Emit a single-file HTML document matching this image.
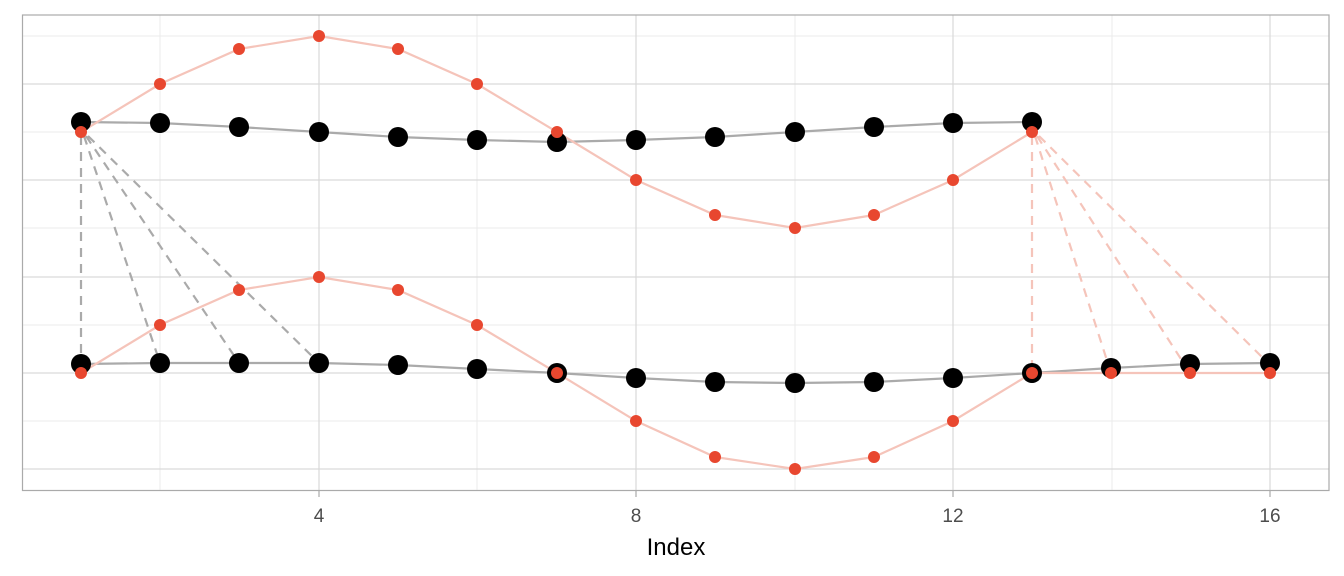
<!DOCTYPE html>
<html><head><meta charset="utf-8"><style>body{margin:0;background:#fff}svg{display:block}</style></head><body>
<svg width="1344" height="576" xmlns="http://www.w3.org/2000/svg" font-family="Liberation Sans, sans-serif">
<g stroke="#ebebeb" stroke-width="1">
<line x1="22" x2="1329" y1="36" y2="36"/><line x1="22" x2="1329" y1="132" y2="132"/><line x1="22" x2="1329" y1="228" y2="228"/><line x1="22" x2="1329" y1="325" y2="325"/><line x1="22" x2="1329" y1="421" y2="421"/>
<line x1="160" x2="160" y1="15" y2="490"/><line x1="477" x2="477" y1="15" y2="490"/><line x1="795" x2="795" y1="15" y2="490"/><line x1="1112" x2="1112" y1="15" y2="490"/>
</g>
<g stroke="#d9d9d9" stroke-width="1.2">
<line x1="22" x2="1329" y1="84" y2="84"/><line x1="22" x2="1329" y1="180" y2="180"/><line x1="22" x2="1329" y1="277" y2="277"/><line x1="22" x2="1329" y1="373" y2="373"/><line x1="22" x2="1329" y1="469" y2="469"/>
<line x1="319" x2="319" y1="15" y2="490"/><line x1="636" x2="636" y1="15" y2="490"/><line x1="953" x2="953" y1="15" y2="490"/><line x1="1270" x2="1270" y1="15" y2="490"/>
</g>
<rect x="22.5" y="15" width="1306.5" height="475.5" fill="none" stroke="#aaa" stroke-width="1.2"/>
<g stroke="#aaa" stroke-width="1.2"><line x1="319" x2="319" y1="490" y2="497"/><line x1="636" x2="636" y1="490" y2="497"/><line x1="953" x2="953" y1="490" y2="497"/><line x1="1270" x2="1270" y1="490" y2="497"/></g>
<g font-size="19" fill="#4d4d4d" text-anchor="middle"><text x="319" y="522">4</text><text x="636" y="522">8</text><text x="953" y="522">12</text><text x="1270" y="522">16</text></g>
<text x="676" y="555" font-size="24" text-anchor="middle" fill="#000">Index</text>
<g stroke="#aaa" stroke-width="2.2" stroke-dasharray="9,7" fill="none">
<line x1="81" y1="136" x2="81" y2="364"/><line x1="84" y1="136" x2="160" y2="363"/><line x1="86" y1="136" x2="239" y2="363"/><line x1="88" y1="136" x2="319" y2="363"/>
</g>
<g stroke="#f5c4ba" stroke-width="2.2" stroke-dasharray="9,7" fill="none">
<line x1="1032" y1="136" x2="1032" y2="373"/><line x1="1035" y1="136" x2="1111" y2="373"/><line x1="1037" y1="136" x2="1190" y2="373"/><line x1="1039" y1="136" x2="1270" y2="365"/>
</g>
<polyline fill="none" stroke="#aaa" stroke-width="2.2" points="81,122 160,123 239,127 319,132 398,137 477,140 557,142 636,140 715,137 795,132 874,127 953,123 1032,122"/>
<polyline fill="none" stroke="#aaa" stroke-width="2.2" points="81,364 160,363 239,363 319,363 398,365 477,369 557,373 636,378 715,382 795,383 874,382 953,378 1032,373 1111,368 1190,364 1270,363"/>
<polyline fill="none" stroke="#f5c4ba" stroke-width="2.2" points="81,132 160,84 239,49 319,36 398,49 477,84 557,132 636,180 715,215 795,228 874,215 953,180 1032,132"/>
<polyline fill="none" stroke="#f5c4ba" stroke-width="2.2" points="81,373 160,325 239,290 319,277 398,290 477,325 557,373 636,421 715,457 795,469 874,457 953,421 1032,373 1111,373 1190,373 1270,373"/>
<g fill="#000">
<circle cx="81" cy="122" r="10"/><circle cx="160" cy="123" r="10"/><circle cx="239" cy="127" r="10"/><circle cx="319" cy="132" r="10"/><circle cx="398" cy="137" r="10"/><circle cx="477" cy="140" r="10"/><circle cx="557" cy="142" r="10"/><circle cx="636" cy="140" r="10"/><circle cx="715" cy="137" r="10"/><circle cx="795" cy="132" r="10"/><circle cx="874" cy="127" r="10"/><circle cx="953" cy="123" r="10"/><circle cx="1032" cy="122" r="10"/>
<circle cx="81" cy="364" r="10"/><circle cx="160" cy="363" r="10"/><circle cx="239" cy="363" r="10"/><circle cx="319" cy="363" r="10"/><circle cx="398" cy="365" r="10"/><circle cx="477" cy="369" r="10"/><circle cx="557" cy="373" r="10"/><circle cx="636" cy="378" r="10"/><circle cx="715" cy="382" r="10"/><circle cx="795" cy="383" r="10"/><circle cx="874" cy="382" r="10"/><circle cx="953" cy="378" r="10"/><circle cx="1032" cy="373" r="10"/><circle cx="1111" cy="368" r="10"/><circle cx="1190" cy="364" r="10"/><circle cx="1270" cy="363" r="10"/>
</g>
<g fill="#e8472f">
<circle cx="81" cy="132" r="6"/><circle cx="160" cy="84" r="6"/><circle cx="239" cy="49" r="6"/><circle cx="319" cy="36" r="6"/><circle cx="398" cy="49" r="6"/><circle cx="477" cy="84" r="6"/><circle cx="557" cy="132" r="6"/><circle cx="636" cy="180" r="6"/><circle cx="715" cy="215" r="6"/><circle cx="795" cy="228" r="6"/><circle cx="874" cy="215" r="6"/><circle cx="953" cy="180" r="6"/><circle cx="1032" cy="132" r="6"/>
<circle cx="81" cy="373" r="6"/><circle cx="160" cy="325" r="6"/><circle cx="239" cy="290" r="6"/><circle cx="319" cy="277" r="6"/><circle cx="398" cy="290" r="6"/><circle cx="477" cy="325" r="6"/><circle cx="557" cy="373" r="6"/><circle cx="636" cy="421" r="6"/><circle cx="715" cy="457" r="6"/><circle cx="795" cy="469" r="6"/><circle cx="874" cy="457" r="6"/><circle cx="953" cy="421" r="6"/><circle cx="1032" cy="373" r="6"/><circle cx="1111" cy="373" r="6"/><circle cx="1190" cy="373" r="6"/><circle cx="1270" cy="373" r="6"/>
</g>
</svg>
</body></html>
